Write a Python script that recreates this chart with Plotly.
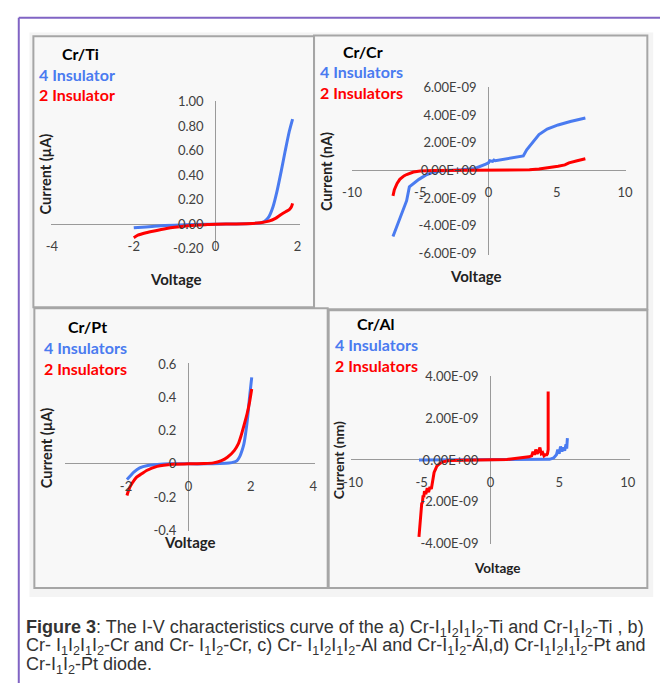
import plotly.graph_objects as go

W, H = 667, 690

# ---------------- data ----------------
# (a) Cr/Ti, current in uA
ti_v4 = [-2.0, -1.8, -1.5, -1.0, -0.5, 0.0, 0.5, 0.9, 1.1, 1.2, 1.3, 1.4, 1.5, 1.6, 1.7, 1.8, 1.88]
ti_i4 = [-0.03, -0.024, -0.016, -0.008, -0.003, 0.0, 0.002, 0.006, 0.012, 0.025, 0.06, 0.14, 0.27, 0.43, 0.6, 0.76, 0.86]
ti_v2 = [-2.0, -1.9, -1.7, -1.5, -1.2, -1.0, -0.6, -0.2, 0.0, 0.5, 0.9, 1.1, 1.3, 1.45, 1.6, 1.7, 1.8, 1.85, 1.88]
ti_i2 = [-0.11, -0.09, -0.07, -0.055, -0.035, -0.025, -0.01, -0.003, 0.0, 0.002, 0.006, 0.012, 0.025, 0.045, 0.08, 0.1, 0.12, 0.14, 0.17]

# (b) Cr/Cr, current in units of 1E-09 A
cr_v4 = [-7.0, -6.8, -6.5, -6.2, -6.0, -5.8, -5.5, -5.1, -4.6, -4.1, -3.5, -3.0, -2.0, -1.0, -0.5, -0.2, 0.0, 0.1, 0.3, 0.4, 0.5, 1.0, 1.5, 2.0, 2.4, 2.55, 2.8, 3.2, 3.7, 4.3, 5.1, 6.0, 7.1]
cr_i4 = [-4.8, -4.3, -3.6, -2.8, -2.2, -1.2, -0.95, -0.65, -0.35, -0.15, -0.05, 0.0, 0.05, 0.14, 0.3, 0.45, 0.55, 0.7, 0.65, 0.75, 0.7, 0.78, 0.85, 0.95, 1.0, 1.05, 1.5, 2.0, 2.6, 3.0, 3.3, 3.55, 3.8]
cr_v2 = [-7.0, -6.9, -6.7, -6.5, -6.2, -6.0, -5.5, -5.0, -4.0, -2.0, 0.0, 2.0, 3.0, 3.7, 4.5, 5.1, 5.6, 5.9, 6.5, 7.1]
cr_i2 = [-1.85, -1.4, -0.95, -0.65, -0.4, -0.3, -0.12, -0.05, -0.01, 0.0, 0.0, 0.02, 0.05, 0.1, 0.2, 0.3, 0.4, 0.55, 0.7, 0.85]

# (c) Cr/Pt, current in uA
pt_v4 = [-1.97, -1.85, -1.75, -1.56, -1.3, -1.0, -0.6, 0.0, 0.6, 1.0, 1.3, 1.45, 1.56, 1.65, 1.72, 1.78, 1.84, 1.9, 1.96, 2.03]
pt_i4 = [-0.094, -0.07, -0.05, -0.024, -0.01, -0.004, 0.0, 0.0, 0.0, 0.002, 0.005, 0.01, 0.02, 0.045, 0.08, 0.12, 0.19, 0.28, 0.4, 0.52]
pt_v2 = [-1.97, -1.9, -1.8, -1.66, -1.5, -1.34, -1.0, -0.5, 0.0, 0.5, 0.8, 1.06, 1.25, 1.47, 1.6, 1.69, 1.78, 1.88, 1.96, 2.03]
pt_i2 = [-0.19, -0.15, -0.115, -0.08, -0.06, -0.04, -0.015, -0.002, 0.0, 0.002, 0.006, 0.02, 0.04, 0.08, 0.12, 0.17, 0.23, 0.3, 0.37, 0.45]

# (d) Cr/Al, current in units of 1E-09 A
al_v4 = [-5.2, -4.0, -2.0, 0.0, 2.0, 3.5, 4.3, 4.6, 4.8, 4.9, 5.0, 5.1, 5.2, 5.3, 5.4, 5.5, 5.55, 5.6]
al_i4 = [0.0, 0.0, 0.0, 0.0, 0.0, 0.01, 0.03, 0.1, 0.25, 0.5, 0.3, 0.65, 0.4, 0.6, 0.45, 0.75, 0.55, 1.05]
al_v2 = [-5.2, -5.15, -5.1, -5.05, -5.0, -4.95, -4.9, -4.85, -4.8, -4.7, -4.6, -4.5, -4.4, -4.3, -4.2, -4.1, -4.0, -3.9, -3.7, -3.5, -3.2, -3.0, -2.0, 0.0, 1.2, 1.5, 2.0, 2.5, 2.8, 3.0, 3.1, 3.2, 3.3, 3.4, 3.5, 3.6, 3.7, 3.8, 3.9, 4.0, 4.1, 4.15, 4.2, 4.2]
al_i2 = [-3.7, -3.2, -2.7, -2.5, -2.1, -2.05, -1.7, -1.8, -1.5, -1.65, -1.35, -1.55, -1.3, -1.4, -1.0, -0.6, -0.45, -0.3, -0.18, -0.1, -0.05, -0.03, -0.01, 0.0, 0.02, 0.05, 0.08, 0.12, 0.15, 0.2, 0.4, 0.25, 0.5, 0.3, 0.4, 0.6, 0.3, 0.35, 0.2, 0.25, 0.25, 0.3, 0.5, 3.3]

# tick values
ti_xticks = [-4, -2, 0, 2]
ti_yticks = [-0.2, 0.0, 0.2, 0.4, 0.6, 0.8, 1.0]
cr_xticks = [-10, -5, 0, 5, 10]
cr_yticks = [-6, -4, -2, 0, 2, 4, 6]      # x 1E-09
pt_xticks = [-4, -2, 0, 2, 4]
pt_yticks = [-0.4, -0.2, 0.0, 0.2, 0.4, 0.6]
al_xticks = [-10, -5, 0, 5, 10]
al_yticks = [-4, -2, 0, 2, 4]              # x 1E-09

NANO = 1e-9
BLUE = "#4a7bf0"
RED = "#ff0000"
TXT = "#404040"
FONT = "Lato"

def sci(v):
    return f"{v * NANO:.2E}"

panels = [
    dict(ax="", xd=(42, 298), xr=(-4.024, 2.071), yd=(95, 248), yr=(-0.216, 1.008),
         xt=ti_xticks, xtt=[str(v) for v in ti_xticks],
         yt=ti_yticks, ytt=[f"{v:.2f}" for v in ti_yticks],
         tr=[(ti_v4, ti_i4, BLUE), (ti_v2, ti_i2, RED)], shape="spline"),
    dict(ax="2", xd=(351, 632), xr=(-10.0, 10.07), yd=(81, 252), yr=(-6.11 * NANO, 6.04 * NANO),
         xt=cr_xticks, xtt=[str(v) for v in cr_xticks],
         yt=[v * NANO for v in cr_yticks], ytt=[sci(v) for v in cr_yticks],
         tr=[(cr_v4, [v * NANO for v in cr_i4], BLUE), (cr_v2, [v * NANO for v in cr_i2], RED)], shape="linear"),
    dict(ax="3", xd=(56, 313), xr=(-3.97, 4.06), yd=(363, 535), yr=(-0.406, 0.606),
         xt=pt_xticks, xtt=[str(v) for v in pt_xticks],
         yt=pt_yticks, ytt=[f"{v:g}" for v in pt_yticks],
         tr=[(pt_v4, pt_i4, BLUE), (pt_v2, pt_i2, RED)], shape="spline"),
    dict(ax="4", xd=(350, 636), xr=(-10.14, 10.14), yd=(376, 548), yr=(-4.05 * NANO, 4.05 * NANO),
         xt=al_xticks, xtt=[str(v) for v in al_xticks],
         yt=[v * NANO for v in al_yticks], ytt=[sci(v) for v in al_yticks],
         tr=[(al_v4, [v * NANO for v in al_i4], BLUE), (al_v2, [v * NANO for v in al_i2], RED)], shape="linear"),
]

fig = go.Figure()
layout = {}
for p in panels:
    a = p["ax"]
    xd = [p["xd"][0] / W, p["xd"][1] / W]
    yd = [1 - p["yd"][1] / H, 1 - p["yd"][0] / H]
    x0, x1 = p["xr"]
    y0, y1 = p["yr"]
    xpos0 = xd[0] + (0 - x0) / (x1 - x0) * (xd[1] - xd[0])
    ypos0 = yd[0] + (0 - y0) / (y1 - y0) * (yd[1] - yd[0])
    for (vx, vy, col) in p["tr"]:
        fig.add_trace(go.Scatter(x=vx, y=vy, mode="lines", xaxis="x" + a, yaxis="y" + a,
                                 line=dict(color=col, width=3, shape=p["shape"], smoothing=0.6),
                                 showlegend=False, hoverinfo="skip"))
    common = dict(showgrid=False, showline=False, ticks="", zeroline=True,
                  zerolinecolor="#9a9a9a", zerolinewidth=1, fixedrange=True,
                  tickfont=dict(family=FONT, size=13, color=TXT), anchor="free")
    layout["xaxis" + a] = dict(common, domain=xd, range=[x0, x1], position=ypos0,
                               tickmode="array", tickvals=p["xt"], ticktext=p["xtt"],
                               side="bottom", ticklabelstandoff=13)
    layout["yaxis" + a] = dict(common, domain=yd, range=[y0, y1], position=xpos0,
                               tickmode="array", tickvals=p["yt"], ticktext=p["ytt"],
                               side="left", ticklabelstandoff=12)

fig.update_layout(**layout)

def rect(x0, y0, x1, y1, **kw):
    return dict(type="rect", xref="paper", yref="paper", x0=x0 / W, x1=x1 / W,
                y0=1 - y1 / H, y1=1 - y0 / H, layer="below", **kw)

shapes = [
    rect(20, 25, 660, 602, fillcolor="#f4f4f4", line=dict(width=0)),
    rect(24, 29, 312, 306, fillcolor="#f8f8f8", line=dict(color="#a6a6a6", width=2)),
    rect(312, 28, 654, 308, fillcolor="#f8f8f8", line=dict(color="#a6a6a6", width=2)),
    rect(25, 307, 326, 593, fillcolor="#f8f8f8", line=dict(color="#a6a6a6", width=2)),
    rect(327, 309, 654, 593, fillcolor="#f8f8f8", line=dict(color="#a6a6a6", width=2)),
    dict(type="line", xref="paper", yref="paper", x0=9 / W, x1=1, y0=1 - 10 / H, y1=1 - 10 / H,
         line=dict(color="#8064c4", width=2), layer="above"),
    dict(type="line", xref="paper", yref="paper", x0=9 / W, x1=9 / W, y0=0, y1=1 - 10 / H,
         line=dict(color="#8064c4", width=2), layer="above"),
]

def ann(text, x, y, size=16, color="#000", xanchor="left", angle=0, family=FONT, bold=True):
    t = f"<b>{text}</b>" if bold else text
    return dict(text=t, x=x / W, y=1 - y / H, xref="paper", yref="paper", showarrow=False,
                xanchor=xanchor, yanchor="middle", textangle=angle, borderpad=0,
                font=dict(family=family, size=size, color=color))

annotations = [
    ann("Cr/Ti", 52, 47), ann("4 Insulator", 29, 68, color=BLUE), ann("2 Insulator", 29, 88, color=RED),
    ann("Cr/Cr", 341, 44), ann("4 Insulators", 317, 65, color=BLUE), ann("2 Insulators", 317, 86, color=RED),
    ann("Cr/Pt", 59, 326), ann("4 Insulators", 34, 347, color=BLUE), ann("2 Insulators", 34, 368, color=RED),
    ann("Cr/Al", 355, 323), ann("4 Insulators", 332, 344, color=BLUE), ann("2 Insulators", 332, 365, color=RED),
    ann("Voltage", 170, 277, size=15, color="#222", xanchor="center"),
    ann("Voltage", 478, 274, size=15, color="#222", xanchor="center"),
    ann("Voltage", 185, 546, size=15, color="#222", xanchor="center"),
    ann("Voltage", 500, 572, size=13.5, color="#222", xanchor="center"),
    ann("Current (µA)", 36, 170, size=14.5, color="#222", xanchor="center", angle=-90),
    ann("Current (nA)", 325, 167, size=14.5, color="#222", xanchor="center", angle=-90),
    ann("Current (µA)", 37, 450, size=14.5, color="#222", xanchor="center", angle=-90),
    ann("Current (nm)", 338, 462, size=14, color="#222", xanchor="center", angle=-90),
]

S1, S2 = "<sub>1</sub>", "<sub>2</sub>"
cap1 = f"<b>Figure 3</b>: The I-V characteristics curve of the a) Cr-I{S1}I{S2}I{S1}I{S2}-Ti and Cr-I{S1}I{S2}-Ti , b)"
cap2 = (f"Cr- I{S1}I{S2}I{S1}I{S2}-Cr and Cr- I{S1}I{S2}-Cr, c) Cr- I{S1}I{S2}I{S1}I{S2}-Al and "
        f"Cr-I{S1}I{S2}-Al,d) Cr-I{S1}I{S2}I{S1}I{S2}-Pt and")
cap3 = f"Cr-I{S1}I{S2}-Pt diode."
CAPFONT = "Liberation Sans Narrow, Arial Narrow, Liberation Sans"
for txt, yy in [(cap1, 634), (cap2, 653), (cap3, 672)]:
    annotations.append(ann(txt, 15, yy, size=18, color="#333", family=CAPFONT, bold=False))

fig.update_layout(width=W, height=H, margin=dict(l=0, r=0, t=0, b=0),
                  paper_bgcolor="white", plot_bgcolor="rgba(0,0,0,0)",
                  shapes=shapes, annotations=annotations, showlegend=False)

fig.write_html("out.html", config={"displayModeBar": False},
               post_script="document.body.style.margin='0';document.body.style.overflow='hidden';")
